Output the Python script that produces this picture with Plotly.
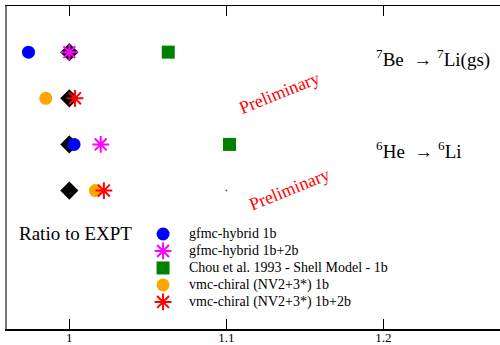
import plotly.graph_objects as go

# ---- data ----
row_labels = ["7Be gfmc", "7Be vmc", "6He gfmc", "6He vmc"]
row_pos = [4, 3, 2, 1]

expt_ratio = [1.0, 1.0, 1.0, 1.0]

gfmc_rows = [4, 2]
gfmc_1b = [0.974, 1.003]
gfmc_1b2b = [1.0, 1.020]
chou_1b = [1.063, 1.102]

vmc_rows = [3, 1]
vmc_1b = [0.985, 1.0166]
vmc_1b2b = [1.0036, 1.022]

stray_rows = [1]
stray_x = [1.100]

x_ticks = [1.0, 1.1, 1.2]
x_tick_text = ["1", "1.1", "1.2"]

legend_names = [
    "gfmc-hybrid 1b",
    "gfmc-hybrid 1b+2b",
    "Chou et al. 1993 - Shell Model - 1b",
    "vmc-chiral (NV2+3*) 1b",
    "vmc-chiral (NV2+3*) 1b+2b",
]
legend_symbols = ["circle", "asterisk-open", "square", "circle", "asterisk-open"]
legend_colors = ["#0000ff", "#ff00ff", "#008000", "#ffa500", "#ff0000"]
legend_sizes = [13, 14, 13, 13, 14]

FONT = "Liberation Serif"
X_RANGE = [0.9603, 1.2743]
Y_RANGE = [-2, 5]


def marker(symbol, size, color):
    if symbol == "asterisk-open":
        return dict(symbol=symbol, size=size, color=color,
                    line=dict(color=color, width=2))
    return dict(symbol=symbol, size=size, color=color)


fig = go.Figure()

# reference diamonds (experiment = 1)
fig.add_trace(go.Scatter(x=expt_ratio, y=row_pos, mode="markers",
                         marker=dict(symbol="diamond", size=14, color="black")))
fig.add_trace(go.Scatter(x=gfmc_1b, y=gfmc_rows, mode="markers",
                         marker=marker(legend_symbols[0], legend_sizes[0], legend_colors[0])))
fig.add_trace(go.Scatter(x=gfmc_1b2b, y=gfmc_rows, mode="markers",
                         marker=marker(legend_symbols[1], legend_sizes[1], legend_colors[1])))
fig.add_trace(go.Scatter(x=chou_1b, y=gfmc_rows, mode="markers",
                         marker=marker(legend_symbols[2], legend_sizes[2], legend_colors[2])))
fig.add_trace(go.Scatter(x=vmc_1b, y=vmc_rows, mode="markers",
                         marker=marker(legend_symbols[3], legend_sizes[3], legend_colors[3])))
fig.add_trace(go.Scatter(x=vmc_1b2b, y=vmc_rows, mode="markers",
                         marker=marker(legend_symbols[4], legend_sizes[4], legend_colors[4])))
fig.add_trace(go.Scatter(x=stray_x, y=stray_rows, mode="markers",
                         marker=dict(symbol="circle", size=2, color="#666666")))

# in-plot legend block (anchor position in data units)
LEG_X, LEG_Y0, LEG_DY, LEG_TEXT_X = 1.0597, 0.059, -0.368, 1.075
leg_y = [LEG_Y0 + i * LEG_DY for i in range(len(legend_names))]
for i, name in enumerate(legend_names):
    fig.add_trace(go.Scatter(x=[LEG_X], y=[leg_y[i]], mode="markers",
                             marker=marker(legend_symbols[i], legend_sizes[i], legend_colors[i])))
    fig.add_annotation(x=LEG_TEXT_X, y=leg_y[i],
                       text=name, showarrow=False, xanchor="left", yanchor="middle",
                       font=dict(family=FONT, size=14, color="black"))

# text labels
fig.add_annotation(x=1.194, y=3.87, text="<sup>7</sup>Be  \u2192 <sup>7</sup>Li(gs)",
                   showarrow=False, xanchor="left", yanchor="middle",
                   font=dict(family=FONT, size=19, color="black"))
fig.add_annotation(x=1.194, y=1.87, text="<sup>6</sup>He  \u2192 <sup>6</sup>Li",
                   showarrow=False, xanchor="left", yanchor="middle",
                   font=dict(family=FONT, size=19, color="black"))
fig.add_annotation(x=0.9667, y=0.08, text="Ratio to EXPT", showarrow=False,
                   xanchor="left", yanchor="middle",
                   font=dict(family=FONT, size=19, color="black"))
for px, py in [(1.1336, 3.11), (1.1405, 1.03)]:
    fig.add_annotation(x=px, y=py, text="Preliminary", showarrow=False,
                       textangle=-22, xanchor="center", yanchor="middle",
                       font=dict(family=FONT, size=18, color="#ff0000"))

fig.update_layout(
    width=500, height=345,
    margin=dict(l=7, r=0, t=6, b=16),
    paper_bgcolor="white", plot_bgcolor="white",
    showlegend=False,
    font=dict(family=FONT, size=13, color="black"),
    xaxis=dict(range=X_RANGE, tickvals=x_ticks, ticktext=x_tick_text,
               ticks="inside", ticklen=10, tickwidth=1.5, tickcolor="#000",
               showgrid=False, zeroline=False, showline=True,
               linecolor="#000", linewidth=1.5, mirror="allticks",
               automargin=False, ticklabelstandoff=-4,
               tickfont=dict(family=FONT, size=13, color="black")),
    yaxis=dict(range=Y_RANGE, showticklabels=False, ticks="", showgrid=False,
               zeroline=False, showline=True, linecolor="#777", linewidth=2,
               automargin=False),
)

fig.write_html("out.html",
               config={"displayModeBar": False, "staticPlot": True},
               post_script="document.body.style.margin='0';document.body.style.overflow='hidden';")
